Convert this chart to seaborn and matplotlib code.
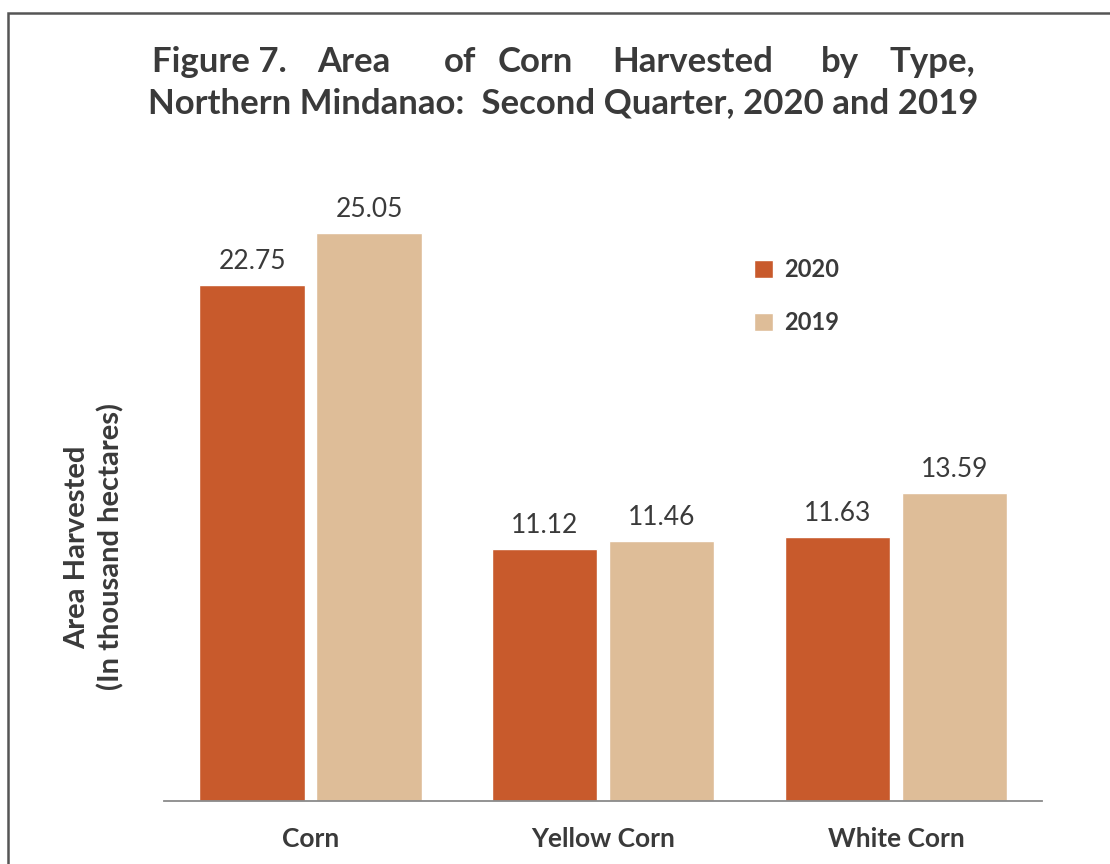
import matplotlib
matplotlib.use("Agg")
import matplotlib.pyplot as plt
import seaborn as sns
import pandas as pd
from matplotlib.patches import Rectangle

categories = ["Corn", "Yellow Corn", "White Corn"]
years = ["2020", "2019"]
values_2020 = [22.75, 11.12, 11.63]
values_2019 = [25.05, 11.46, 13.59]
palette = {"2020": "#C85A2C", "2019": "#DEBD98"}

df = pd.DataFrame({
    "Type": categories * 2,
    "Year": ["2020"] * 3 + ["2019"] * 3,
    "Value": values_2020 + values_2019,
})

sns.set_theme(style="white")
FONT = ["Lato", "Open Sans", "DejaVu Sans"]
plt.rcParams["font.family"] = FONT
TXT = "#3a3a3a"

fig = plt.figure(figsize=(11.1, 8.64), dpi=100)
ax = fig.add_axes([0.148, 0.0729, 0.791, 0.735])

sns.barplot(data=df, x="Type", y="Value", hue="Year", hue_order=years,
            order=categories, palette=palette, width=0.8, gap=0.1,
            saturation=1, ax=ax, legend=True)

ax.set_xlim(-0.5, 2.5)
ax.set_ylim(0, 28)
ax.set_yticks([])
for s in ["top", "right", "left"]:
    ax.spines[s].set_visible(False)
ax.spines["bottom"].set_color("#8a8a8a")
ax.spines["bottom"].set_linewidth(1.3)
ax.tick_params(axis="x", length=0, pad=19)
for lab in ax.get_xticklabels():
    lab.set_fontweight("bold")
    lab.set_fontsize(19)
    lab.set_color(TXT)
ax.set_xlabel("")
ax.set_ylabel("Area Harvested\n(In thousand hectares)", fontsize=21,
              fontweight="bold", color=TXT, linespacing=1.35)
ax.yaxis.set_label_coords(-0.045, 0.40)

for cont in ax.containers:
    ax.bar_label(cont, fmt="%.2f", padding=8, fontsize=19, color=TXT)

leg = ax.legend(loc="upper left", bbox_to_anchor=(0.648, 0.888), frameon=False,
                handlelength=0.8, handleheight=0.8, handletextpad=0.45,
                labelspacing=1.25, prop={"weight": "bold", "size": 17})
for t in leg.get_texts():
    t.set_color(TXT)

# Title
fig.text(0.507, 1 - 103 / 864, "Northern Mindanao:  Second Quarter, 2020 and 2019",
         ha="center", va="center", fontsize=25, fontweight="bold", color=TXT)
y1 = 1 - 62 / 864
words = [("Figure 7.", 152, "left"), ("Area", 354, "center"), ("of", 460, "center"),
         ("Corn", 535, "center"), ("Harvested", 693, "center"), ("by", 840, "center"),
         ("Type,", 975, "right")]
for w, x, ha in words:
    fig.text(x / 1110, y1, w, ha=ha, va="center", fontsize=25,
             fontweight="bold", color=TXT)

# Border
fig.patches.append(Rectangle((8 / 1110, -0.05), 1.1, 1 - 13 / 864 + 0.05,
                             transform=fig.transFigure, fill=False,
                             edgecolor="#555555", linewidth=1.8))

fig.savefig("out.png", dpi=100)
